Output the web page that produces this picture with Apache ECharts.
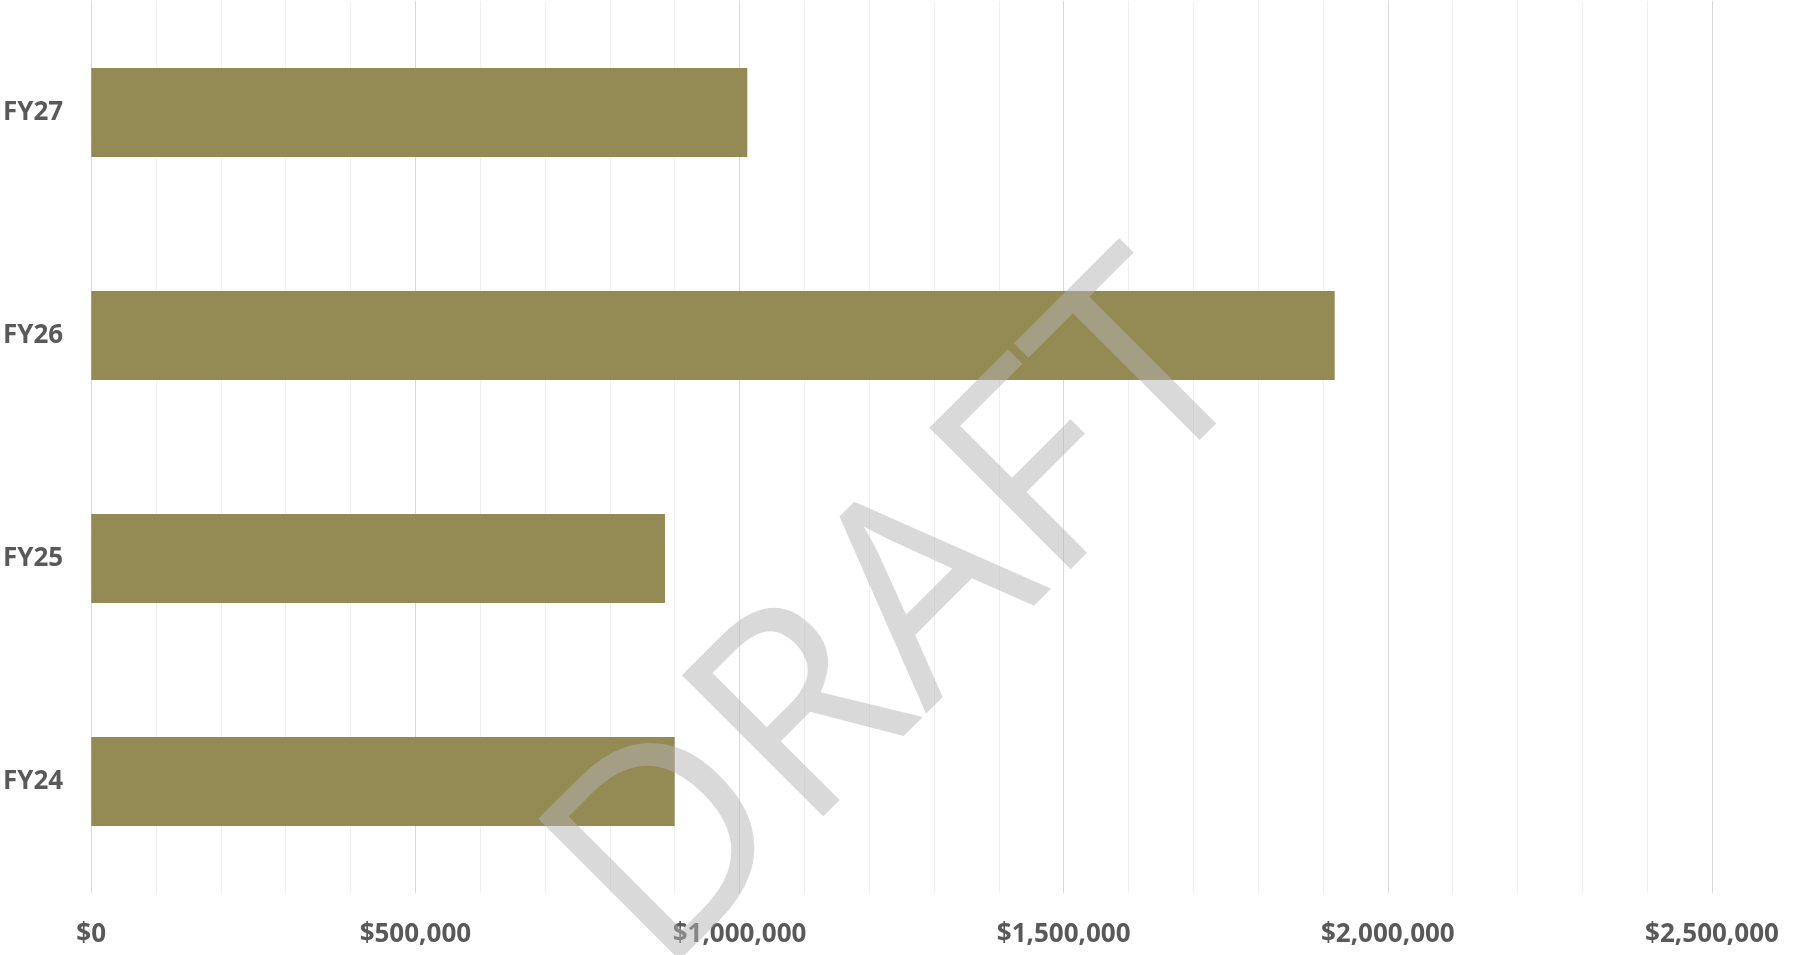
<!DOCTYPE html>
<html>
<head>
<meta charset="utf-8">
<style>
  html, body { margin: 0; padding: 0; background: #ffffff; }
  #chart { width: 1793px; height: 955px; }
</style>
<script src="https://cdn.jsdelivr.net/npm/echarts@6/dist/echarts.min.js"></script>
</head>
<body>
<div id="chart"></div>
<script>
// Fiscal years, bottom to top
const categories = ['FY24', 'FY25', 'FY26', 'FY27'];
// Amount per fiscal year (USD)
const amounts = [900000, 885000, 1918000, 1012000];
// Value axis range and step
const axisMax = 2500000;
const axisStep = 500000;
const watermarkText = 'DRAFT';

const labelColor = '#595959';
const barColor = '#948A54';

function money(v) {
  return '$' + Math.round(v).toString().replace(/\B(?=(\d{3})+(?!\d))/g, ',');
}

const chart = echarts.init(document.getElementById('chart'), null, { renderer: 'canvas' });

chart.setOption({
  animation: false,
  backgroundColor: '#ffffff',
  grid: { left: 91, right: 81, top: 1, bottom: 62, containLabel: false },
  xAxis: {
    type: 'value',
    min: 0,
    max: axisMax,
    interval: axisStep,
    axisLine: { show: false },
    axisTick: { show: false },
    axisLabel: {
      formatter: money,
      color: labelColor,
      fontFamily: '"Open Sans", sans-serif',
      fontWeight: 'bold',
      fontSize: 26,
      margin: 29
    },
    splitLine: { show: true, lineStyle: { color: '#d9d9d9', width: 1 } },
    minorTick: { show: false, splitNumber: 5 },
    minorSplitLine: { show: true, lineStyle: { color: '#f0f0f0', width: 1 } }
  },
  yAxis: {
    type: 'category',
    data: categories,
    axisLine: { show: false },
    axisTick: { show: false },
    axisLabel: {
      color: labelColor,
      fontFamily: '"Open Sans", sans-serif',
      fontWeight: 'bold',
      fontSize: 26,
      margin: 28
    },
    splitLine: { show: false }
  },
  series: [{
    type: 'bar',
    data: amounts,
    barWidth: '40%',
    itemStyle: { color: barColor },
    z: 2
  }],
  graphic: [{
    type: 'text',
    x: 905,
    y: 622,
    rotation: Math.PI / 4,
    z: 100,
    silent: true,
    style: {
      text: watermarkText,
      fontFamily: '"Open Sans", sans-serif',
      fontSize: 280,
      fontWeight: 'normal',
      fill: 'rgba(180,180,180,0.5)',
      textAlign: 'center',
      textVerticalAlign: 'middle'
    }
  }]
});
</script>
</body>
</html>
